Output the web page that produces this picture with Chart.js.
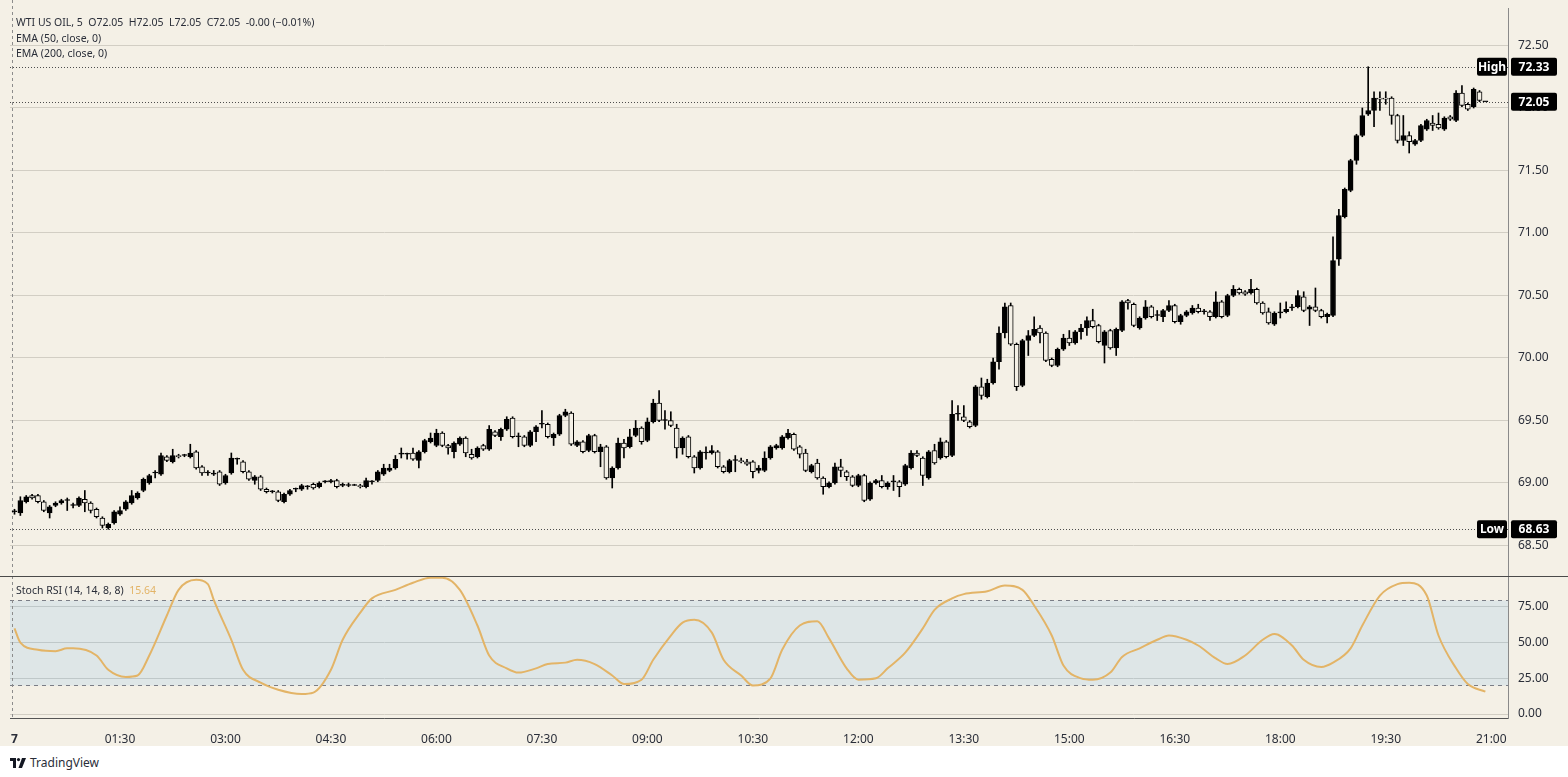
<!DOCTYPE html>
<html><head><meta charset="utf-8">
<script src="https://cdn.jsdelivr.net/npm/chart.js@4.4.1/dist/chart.umd.min.js"></script>
<style>
html,body{margin:0;padding:0;background:#fff;}
body{width:1568px;height:777px;position:relative;overflow:hidden;font-family:"Noto Sans",Arial,sans-serif;}
#bg{position:absolute;left:0;top:0;width:1568px;height:746px;background:#f4f0e6;}
#c1{position:absolute;left:0;top:0;}
#c2{position:absolute;left:0;top:576px;}
#sep{position:absolute;left:0;top:576px;width:1568px;height:1px;background:#4a4a4a;}
.leg{position:absolute;left:16px;font-size:10.5px;color:#2a2e39;white-space:pre;line-height:14px;}
#logo{position:absolute;left:10px;top:754px;font-size:12px;color:#2a2e39;display:flex;align-items:center;gap:4px;}
</style></head>
<body>
<div id="bg"></div>
<canvas id="c1" width="1568" height="576"></canvas>
<canvas id="c2" width="1568" height="170"></canvas>
<div id="sep"></div>
<div class="leg" style="top:15px">WTI US OIL, 5  O72.05  H72.05  L72.05  C72.05  -0.00 (−0.01%)</div>
<div class="leg" style="top:31px">EMA (50, close, 0)</div>
<div class="leg" style="top:46px">EMA (200, close, 0)</div>
<div class="leg" style="top:583px">Stoch RSI (14, 14, 8, 8)  <span style="color:#e3b467">15.64</span></div>
<div id="logo"><svg width="16" height="10" viewBox="0 0 16 10"><rect x="0" y="0" width="6" height="3" fill="#131722"/><rect x="3" y="0" width="3" height="10" fill="#131722"/><circle cx="8.5" cy="1.6" r="1.6" fill="#131722"/><polygon points="12,0 16,0 12,10 8.5,10" fill="#131722"/></svg><span>TradingView</span></div>
<script>
const timeLabels = ['7','01:30','03:00','04:30','06:00','07:30','09:00','10:30','12:00','13:30','15:00','16:30','18:00','19:30','21:00'];
const timeTickIdx = [0,18,36,54,72,90,108,126,144,162,180,198,216,234,252];
const priceTicks = [68.5,69,69.5,70,70.5,71,71.5,72,72.5];
const stochTicks = [0,25,50,75];

const opens = [68.77,68.76,68.85,68.90,68.90,68.85,68.76,68.82,68.84,68.86,
68.82,68.82,68.87,68.84,68.79,68.72,68.64,68.68,68.75,68.79,
68.84,68.88,68.94,69.00,69.08,69.07,69.21,69.17,69.22,69.22,
69.21,69.25,69.13,69.08,69.07,69.09,69.00,69.08,69.19,69.17,
69.09,69.02,69.05,68.95,68.93,68.93,68.85,68.91,68.95,68.95,
68.97,68.99,68.97,69.01,69.01,69.02,68.98,68.98,68.98,68.98,
68.97,69.01,69.02,69.07,69.10,69.12,69.23,69.23,69.24,69.18,
69.25,69.33,69.30,69.40,69.30,69.25,69.31,69.36,69.23,69.21,
69.30,69.27,69.41,69.37,69.43,69.52,69.37,69.37,69.30,69.41,
69.47,69.47,69.36,69.39,69.54,69.56,69.30,69.33,69.26,69.38,
69.25,69.29,69.04,69.12,69.32,69.29,69.38,69.44,69.34,69.49,
69.64,69.50,69.50,69.44,69.28,69.37,69.21,69.12,69.24,69.24,
69.25,69.13,69.09,69.18,69.18,69.17,69.17,69.10,69.10,69.20,
69.28,69.28,69.36,69.39,69.29,69.24,69.09,69.16,69.04,68.97,
69.00,69.13,69.09,69.05,68.98,69.06,68.87,69.00,69.02,68.97,
69.01,69.01,68.99,69.12,69.24,69.20,69.04,69.26,69.20,69.33,
69.22,69.55,69.53,69.49,69.46,69.77,69.69,69.80,69.97,70.20,
70.42,70.11,69.78,70.14,70.18,70.24,70.20,69.99,69.94,70.07,
70.16,70.12,70.21,70.24,70.30,70.26,70.10,70.22,70.08,70.22,
70.46,70.43,70.24,70.32,70.41,70.34,70.33,70.38,70.42,70.29,
70.34,70.36,70.40,70.37,70.37,70.33,70.45,70.34,70.50,70.55,
70.53,70.52,70.55,70.44,70.37,70.27,70.36,70.37,70.40,70.41,
70.49,70.39,70.41,70.38,70.33,70.34,70.79,71.13,71.34,71.58,
71.78,71.95,71.98,72.08,72.08,72.08,71.94,71.74,71.78,71.71,
71.74,71.83,71.88,71.87,71.83,71.93,71.90,72.12,72.03,72.01,
72.13,72.05];
const highs = [68.79,68.89,68.90,68.91,68.91,68.86,68.82,68.85,68.87,68.88,
68.84,68.89,68.94,68.85,68.80,68.73,68.68,68.78,68.81,68.86,
68.94,68.93,69.04,69.07,69.10,69.24,69.22,69.27,69.23,69.23,
69.31,69.26,69.14,69.10,69.10,69.10,69.07,69.24,69.20,69.18,
69.10,69.06,69.06,68.96,68.94,68.94,68.92,68.95,68.96,68.99,
68.98,69.00,69.01,69.02,69.03,69.03,69.00,69.00,68.99,68.99,
69.04,69.02,69.10,69.15,69.15,69.22,69.28,69.24,69.28,69.26,
69.35,69.40,69.43,69.41,69.31,69.33,69.37,69.37,69.27,69.29,
69.31,69.46,69.42,69.44,69.53,69.53,69.40,69.38,69.42,69.46,
69.58,69.48,69.40,69.55,69.59,69.57,69.34,69.34,69.39,69.39,
69.31,69.30,69.13,69.36,69.35,69.43,69.50,69.45,69.52,69.67,
69.74,69.58,69.57,69.47,69.37,69.38,69.22,69.26,69.29,69.30,
69.26,69.14,69.19,69.22,69.20,69.19,69.18,69.14,69.25,69.30,
69.31,69.38,69.43,69.40,69.30,69.27,69.15,69.19,69.05,69.01,
69.16,69.19,69.10,69.06,69.07,69.07,69.01,69.03,69.06,69.01,
69.06,69.02,69.15,69.26,69.26,69.21,69.26,69.31,69.36,69.34,
69.66,69.62,69.62,69.50,69.78,69.84,69.83,70.00,70.25,70.44,
70.44,70.12,70.15,70.22,70.33,70.26,70.21,70.00,70.08,70.19,
70.22,70.22,70.27,70.33,70.39,70.27,70.22,70.23,70.24,70.46,
70.47,70.44,70.33,70.46,70.42,70.38,70.39,70.46,70.43,70.35,
70.38,70.42,70.43,70.39,70.38,70.53,70.46,70.51,70.58,70.56,
70.54,70.63,70.56,70.45,70.40,70.37,70.44,70.45,70.43,70.54,
70.53,70.42,70.56,70.39,70.36,70.97,71.19,71.36,71.59,71.79,
72.00,72.33,72.13,72.13,72.13,72.09,71.95,71.94,71.81,71.75,
71.87,71.91,71.94,71.96,71.93,71.94,72.14,72.18,72.04,72.16,
72.14,72.05];
const lows = [68.75,68.74,68.84,68.87,68.84,68.77,68.72,68.81,68.83,68.78,
68.80,68.81,68.77,68.76,68.72,68.64,68.63,68.67,68.74,68.78,
68.83,68.87,68.93,68.99,69.04,69.06,69.17,69.16,69.20,69.21,
69.20,69.11,69.06,69.06,69.06,68.98,68.99,69.07,69.15,69.08,
69.02,68.99,68.94,68.92,68.92,68.85,68.84,68.90,68.93,68.94,
68.95,68.95,68.96,69.00,69.00,68.96,68.97,68.97,68.98,68.96,
68.96,68.99,69.01,69.06,69.09,69.11,69.20,69.19,69.18,69.12,
69.24,69.32,69.29,69.29,69.23,69.20,69.30,69.21,69.19,69.20,
69.26,69.26,69.37,69.34,69.42,69.36,69.29,69.29,69.29,69.33,
69.44,69.36,69.30,69.38,69.53,69.30,69.29,69.24,69.25,69.24,
69.13,69.03,68.96,69.11,69.20,69.28,69.37,69.31,69.33,69.48,
69.49,69.43,69.45,69.20,69.23,69.20,69.08,69.11,69.19,69.23,
69.12,69.08,69.08,69.09,69.16,69.14,69.04,69.08,69.09,69.19,
69.27,69.27,69.35,69.26,69.20,69.09,69.08,69.03,68.91,68.96,
68.99,69.05,69.02,68.97,68.97,68.85,68.86,68.99,68.96,68.95,
68.94,68.89,68.98,69.11,69.21,68.98,69.03,69.15,69.19,69.20,
69.21,69.50,69.49,69.44,69.45,69.67,69.68,69.79,69.91,70.16,
70.10,69.74,69.77,70.02,70.17,70.12,69.97,69.93,69.93,70.06,
70.10,70.11,70.15,70.18,70.24,70.12,69.96,70.07,70.02,70.21,
70.39,70.25,70.23,70.31,70.32,70.30,70.29,70.37,70.28,70.27,
70.33,70.35,70.36,70.35,70.30,70.32,70.32,70.33,70.49,70.51,
70.50,70.51,70.43,70.35,70.27,70.26,70.32,70.36,70.38,70.40,
70.37,70.26,70.37,70.32,70.28,70.33,70.74,71.12,71.33,71.55,
71.77,71.94,71.85,71.98,72.03,71.87,71.72,71.70,71.64,71.70,
71.73,71.82,71.82,71.83,71.82,71.90,71.89,72.01,71.98,72.00,
72.05,72.05];
const closes = [68.77,68.86,68.89,68.88,68.85,68.78,68.81,68.84,68.86,68.86,
68.82,68.88,68.84,68.78,68.73,68.66,68.67,68.77,68.78,68.85,
68.90,68.92,69.03,69.06,69.08,69.22,69.18,69.22,69.21,69.22,
69.24,69.12,69.08,69.08,69.08,68.99,69.06,69.20,69.19,69.09,
69.03,69.05,68.95,68.93,68.93,68.86,68.91,68.94,68.95,68.98,
68.97,68.96,69.00,69.01,69.02,68.97,68.99,68.98,68.98,68.97,
69.02,69.01,69.09,69.12,69.12,69.19,69.24,69.23,69.19,69.25,
69.34,69.36,69.40,69.30,69.28,69.32,69.36,69.24,69.20,69.28,
69.27,69.43,69.38,69.43,69.51,69.37,69.37,69.30,69.41,69.45,
69.47,69.37,69.39,69.54,69.57,69.31,69.33,69.25,69.38,69.25,
69.29,69.04,69.12,69.32,69.28,69.37,69.44,69.33,69.49,69.64,
69.50,69.50,69.46,69.28,69.36,69.21,69.12,69.25,69.24,69.26,
69.13,69.09,69.18,69.18,69.17,69.15,69.09,69.12,69.20,69.29,
69.30,69.37,69.40,69.27,69.23,69.10,69.14,69.04,68.97,69.00,
69.13,69.10,69.05,68.98,69.06,68.86,69.00,69.02,68.97,69.00,
69.01,68.97,69.14,69.24,69.22,69.06,69.25,69.16,69.33,69.21,
69.55,69.55,69.50,69.45,69.77,69.70,69.80,69.97,70.20,70.41,
70.11,69.77,70.14,70.18,70.23,70.20,69.98,69.94,70.07,70.16,
70.12,70.21,70.24,70.30,70.25,70.13,70.21,70.08,70.23,70.45,
70.44,70.26,70.32,70.41,70.33,70.34,70.38,70.42,70.29,70.34,
70.37,70.40,70.37,70.37,70.33,70.45,70.33,70.50,70.55,70.52,
70.51,70.55,70.44,70.36,70.28,70.36,70.37,70.39,70.41,70.50,
70.38,70.41,70.38,70.33,70.35,70.78,71.14,71.35,71.58,71.78,
71.94,71.98,72.08,72.07,72.07,71.94,71.74,71.78,71.73,71.74,
71.86,71.90,71.86,71.84,71.92,71.91,72.12,72.02,71.99,72.15,
72.06,72.05];

const stochIdx = [0,1,4,7,9,10,14,16,19,21,23,26,28,31,33,34,37,39,42,45,49,51,54,56,59,61,65,68,71,73,76,79,81,84,86,89,91,94,96,99,102,104,107,109,112,114,116,119,121,124,126,129,131,134,137,139,142,144,147,149,152,155,157,160,162,166,169,172,174,177,179,182,184,187,189,192,195,197,200,202,205,207,210,213,215,218,220,223,225,228,230,233,236,238,241,243,246,248,251];
const stochVal = [60,50,45,44,46,46,41,31,26,27,41,69,87,94,91,80,52,31,22,17,14,15,31,52,71,81,87,92,95.5,95.5,87,62,41,32,29,32,35,36,38,35,27,21,24,38,55,64,66,57,38,27,20,25,45,62,65,53,32,24,25,32,43,60,73,81,84,86,90,87,76,55,34,25,24,29,40,46,52,55,52,48,39,35,41,52,56,48,38,33,36,46,62,83,91,92,83,55,32,21,15.64];

const BG = '#f4f0e6';
const FONT = '"Noto Sans", Arial, sans-serif';
const xMin = -0.768, xMax = 254.86;
const idx = closes.map((_, i) => i);
const highVal = Math.max(...highs), lowVal = Math.min(...lows), lastVal = closes[closes.length-1];
const noPad = ax => { ax.paddingTop = 0; ax.paddingBottom = 0; ax.paddingLeft = 0; ax.paddingRight = 0; };

const overlayA = {
  id: 'overlayA',
  beforeDatasetsDraw(chart) {
    const {ctx, chartArea: a, scales: {x, y}} = chart;
    ctx.save();
    ctx.lineWidth = 1;
    ctx.strokeStyle = '#8c8c8c'; ctx.setLineDash([3,3]);
    const vx = Math.round(x.getPixelForValue(-0.5)) + 0.5;
    ctx.beginPath(); ctx.moveTo(vx, 0); ctx.lineTo(vx, chart.height); ctx.stroke();
    ctx.strokeStyle = '#4d4d4d'; ctx.setLineDash([1,2]);
    [highVal, lastVal, lowVal].forEach(v => {
      const py = Math.round(y.getPixelForValue(v)) + 0.5;
      ctx.beginPath(); ctx.moveTo(a.left, py); ctx.lineTo(a.right, py); ctx.stroke();
    });
    ctx.restore();
  },
  afterDraw(chart) {
    const {ctx, chartArea: a, scales: {y}} = chart;
    ctx.save();
    ctx.font = 'bold 12px ' + FONT;
    ctx.textBaseline = 'middle'; ctx.textAlign = 'center';
    const box = (x0, w, py, txt) => {
      ctx.fillStyle = '#000';
      ctx.beginPath(); ctx.roundRect(x0, py - 9, w, 18, 2); ctx.fill();
      ctx.fillStyle = '#fff'; ctx.fillText(txt, x0 + w/2, py + 0.5);
    };
    const ph = y.getPixelForValue(highVal), pl = y.getPixelForValue(lowVal), pc = y.getPixelForValue(lastVal);
    box(a.right - 31, 30, ph, 'High');
    box(a.right + 3, 46, ph, highVal.toFixed(2));
    box(a.right + 3, 46, pc, lastVal.toFixed(2));
    box(a.right - 31, 30, pl, 'Low');
    box(a.right + 3, 46, pl, lowVal.toFixed(2));
    ctx.restore();
  }
};

new Chart(document.getElementById('c1'), {
  type: 'bar',
  data: {
    datasets: [
      { label: 'wick', data: idx.map(i => ({x: i, y: [lows[i], highs[i]]})),
        backgroundColor: '#000', borderWidth: 0, barThickness: 1, grouped: false, order: 2 },
      { label: 'body', data: idx.map(i => ({x: i, y: [opens[i], closes[i]]})),
        backgroundColor: idx.map(i => closes[i] >= opens[i] ? '#000' : BG),
        borderColor: '#000', borderWidth: 1, borderSkipped: false, barThickness: 5,
        minBarLength: 1, grouped: false, order: 1 }
    ]
  },
  options: {
    responsive: false, animation: false,
    layout: { padding: { left: 10, top: 8, right: 0, bottom: 1 } },
    plugins: { legend: { display: false }, tooltip: { enabled: false } },
    scales: {
      x: { type: 'linear', min: xMin, max: xMax, offset: false, display: false },
      y: { position: 'right', min: 68.264, max: 72.80,
        afterBuildTicks: ax => { ax.ticks = priceTicks.map(v => ({value: v})); },
        afterFit: ax => { ax.width = 60; noPad(ax); },
        grid: { color: '#d2cec4', drawTicks: false },
        border: { color: '#8a8a8a' },
        ticks: { padding: 10, color: '#2a2e39', font: { size: 12, family: FONT }, callback: v => Number(v).toFixed(2) } }
    }
  },
  plugins: [overlayA]
});

const overlayB = {
  id: 'overlayB',
  beforeDatasetsDraw(chart) {
    const {ctx, chartArea: a, scales: {x, y}} = chart;
    ctx.save();
    const y80 = Math.round(y.getPixelForValue(80)) + 0.5, y20 = Math.round(y.getPixelForValue(20)) + 0.5;
    ctx.fillStyle = 'rgba(33,150,243,0.10)';
    ctx.fillRect(a.left, y80, a.right - a.left, y20 - y80);
    ctx.strokeStyle = '#7a7d86'; ctx.lineWidth = 1; ctx.setLineDash([4,4]);
    [y80, y20].forEach(py => { ctx.beginPath(); ctx.moveTo(a.left, py); ctx.lineTo(a.right, py); ctx.stroke(); });
    ctx.strokeStyle = '#8c8c8c'; ctx.setLineDash([3,3]);
    const vx = Math.round(x.getPixelForValue(-0.5)) + 0.5;
    ctx.beginPath(); ctx.moveTo(vx, 0); ctx.lineTo(vx, a.bottom); ctx.stroke();
    ctx.restore();
  }
};

new Chart(document.getElementById('c2'), {
  type: 'line',
  data: {
    datasets: [{ data: stochIdx.map((v, k) => ({x: v, y: stochVal[k]})),
      borderColor: '#e3b467', borderWidth: 2, pointRadius: 0, tension: 0.4,
      cubicInterpolationMode: 'monotone', fill: false }]
  },
  options: {
    responsive: false, animation: false,
    layout: { padding: { left: 10, top: 1, right: 0, bottom: 0 } },
    plugins: { legend: { display: false }, tooltip: { enabled: false } },
    scales: {
      x: { type: 'linear', min: xMin, max: xMax, offset: false,
        afterBuildTicks: ax => { ax.ticks = timeTickIdx.map(v => ({value: v})); },
        afterFit: ax => { ax.height = 28; noPad(ax); },
        grid: { display: false },
        border: { color: '#555' },
        ticks: { autoSkip: false, maxRotation: 0, padding: 6, color: '#2a2e39',
          font: c => ({ size: 12, family: FONT, weight: c.index === 0 ? 'bold' : 'normal' }),
          callback: (v, k) => timeLabels[k] } },
      y: { position: 'right', min: -2.8, max: 96,
        afterBuildTicks: ax => { ax.ticks = stochTicks.map(v => ({value: v})); },
        afterFit: ax => { ax.width = 60; noPad(ax); },
        grid: { color: '#d2cec4', drawTicks: false },
        border: { color: '#8a8a8a' },
        ticks: { padding: 10, color: '#2a2e39', font: { size: 12, family: FONT }, callback: v => Number(v).toFixed(2) } }
    }
  },
  plugins: [overlayB]
});
</script>
</body></html>
